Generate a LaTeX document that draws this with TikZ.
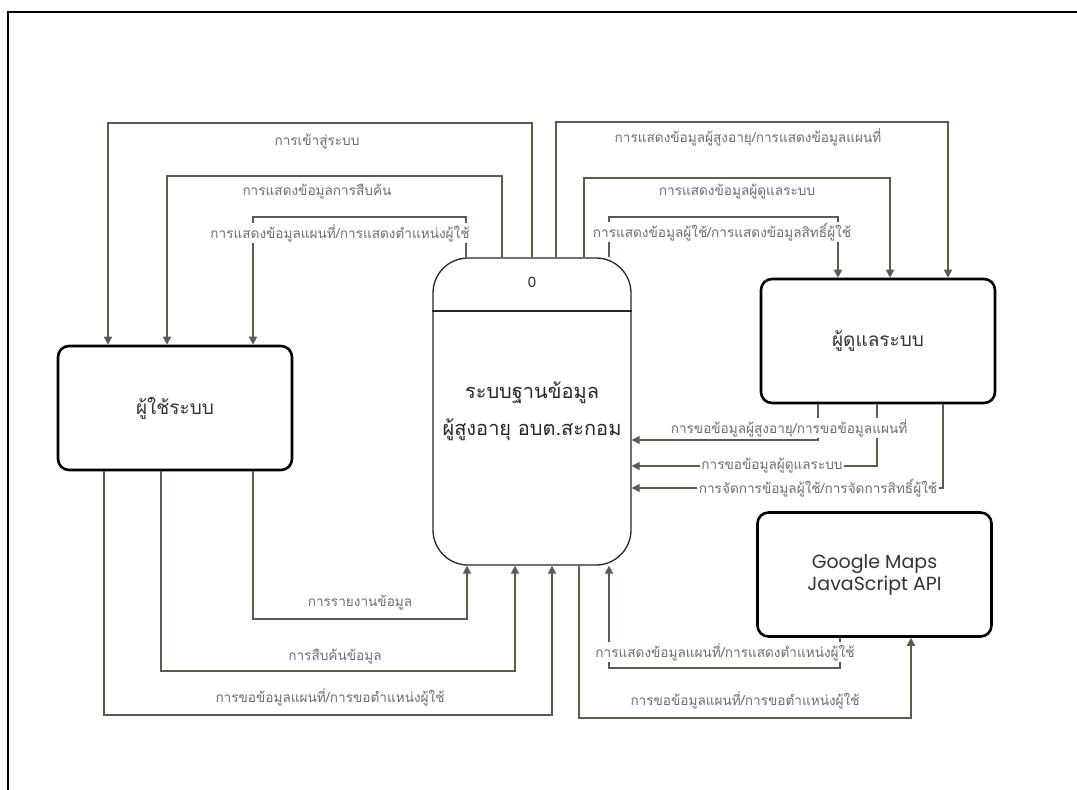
\documentclass[tikz,border=0pt]{standalone}
\usepackage{fontspec}
\usetikzlibrary{arrows.meta}
\newfontfamily\thaifont[Script=Thai]{Loma}
\newfontfamily\latinfont{Poppins}
\definecolor{flowgray}{RGB}{92,92,78}
\definecolor{labelgray}{RGB}{110,110,110}

\begin{document}
\begin{tikzpicture}[x=1pt,y=-1pt,
    entity/.style={draw=black, line width=2.6pt, rounded corners=11pt,
      minimum width=234pt, minimum height=124pt, text=black!80},
    process/.style={draw=black!85, line width=1.3pt, rounded corners=35pt,
      minimum width=198pt, minimum height=307pt, align=center, text=black!85},
    flow/.style={draw=flowgray, line width=1.6pt, -{Triangle[length=8pt,width=8pt]}},
    lbl/.style={fill=white, inner sep=1.5pt, text=labelgray,
      font=\thaifont\fontsize{13.6}{15}\selectfont}]

            \useasboundingbox (0,0) rectangle (1077,790);
            \draw [line width=2pt] (8,790) -- (8,12) -- (1077,12);

            % entities and process
            \node (user) [entity, font=\thaifont\fontsize{19}{22}\selectfont] at (175,408) {ผู้ใช้ระบบ};
            \node (admin) [entity, font=\thaifont\fontsize{19}{22}\selectfont] at (878,341) {ผู้ดูแลระบบ};
            \node (gmap) [entity, align=center, font=\latinfont\fontsize{19}{22}\selectfont] at (874.5,574.5) {Google Maps\\JavaScript API};
            \node (sys) [process, font=\thaifont\fontsize{20}{37}\selectfont] at (532,411.5) {ระบบฐานข้อมูล\\ผู้สูงอายุ อบต.สะกอม};
            \node (num) [font=\latinfont\fontsize{14}{16}\selectfont, text=black!85] at (532,282) {0};
            \coordinate (sep) at (532,311);
            \draw [draw=black!85, line width=1.1pt] (sep -| sys.west) -- (sep -| sys.east);

            % user side, top
            \coordinate (a1) at (532,123);
            \coordinate (a2) at (108,123);
            \coordinate (b1) at (502,176);
            \coordinate (b2) at (167,176);
            \coordinate (c1) at (466,217);
            \coordinate (c2) at (253,217);
            \draw [flow] (a1 |- sys.north) -- (a1) -- (a2) -- (a2 |- user.north);
            \draw [flow] (b1 |- sys.north) -- (b1) -- (b2) -- (b2 |- user.north);
            \draw [flow] (c1 |- sys.north) -- (c1) -- (c2) -- (c2 |- user.north);

            % admin side, top
            \coordinate (d1) at (556,122);
            \coordinate (d2) at (948,122);
            \coordinate (e1) at (584,178);
            \coordinate (e2) at (890,178);
            \coordinate (f1) at (609,217);
            \coordinate (f2) at (838,217);
            \draw [flow] (d1 |- sys.north) -- (d1) -- (d2) -- (d2 |- admin.north);
            \draw [flow] (e1 |- sys.north) -- (e1) -- (e2) -- (e2 |- admin.north);
            \draw [flow] (f1 |- sys.north) -- (f1) -- (f2) -- (f2 |- admin.north);

            % admin side, requests
            \coordinate (g1) at (818,440);
            \coordinate (h1) at (877,466);
            \coordinate (i1) at (943,488);
            \draw [flow] (g1 |- admin.south) -- (g1) -- (g1 -| sys.east);
            \draw [flow] (h1 |- admin.south) -- (h1) -- (h1 -| sys.east);
            \draw [flow] (i1 |- admin.south) -- (i1) -- (i1 -| sys.east);

            % user side, bottom
            \coordinate (j1) at (253,619);
            \coordinate (j2) at (467,619);
            \coordinate (k1) at (161,671);
            \coordinate (k2) at (515,671);
            \coordinate (m1) at (104,715);
            \coordinate (m2) at (552,715);
            \draw [flow] (j1 |- user.south) -- (j1) -- (j2) -- (j2 |- sys.south);
            \draw [flow] (k1 |- user.south) -- (k1) -- (k2) -- (k2 |- sys.south);
            \draw [flow] (m1 |- user.south) -- (m1) -- (m2) -- (m2 |- sys.south);

            % google maps
            \coordinate (n1) at (579,718);
            \coordinate (n2) at (911,718);
            \coordinate (o1) at (840,668);
            \coordinate (o2) at (609,668);
            \draw [flow] (n1 |- sys.south) -- (n1) -- (n2) -- (n2 |- gmap.south);
            \draw [flow] (o1 |- gmap.south) -- (o1) -- (o2) -- (o2 |- sys.south);

            % labels
            \node (la) [lbl] at (317,142) {การเข้าสู่ระบบ};
            \node (lb) [lbl] at (317,192) {การแสดงข้อมูลการสืบค้น};
            \node (lc) [lbl] at (340,233) {การแสดงข้อมูลแผนที่/การแสดงตำแหน่งผู้ใช้};
            \node (ld) [lbl] at (748,137) {การแสดงข้อมูลผู้สูงอายุ/การแสดงข้อมูลแผนที่};
            \node (le) [lbl] at (737,192) {การแสดงข้อมูลผู้ดูแลระบบ};
            \node (lf) [lbl] at (722,232) {การแสดงข้อมูลผู้ใช้/การแสดงข้อมูลสิทธิ์ผู้ใช้};
            \node (lg) [lbl] at (789,428) {การขอข้อมูลผู้สูงอายุ/การขอข้อมูลแผนที่};
            \node (lh) [lbl] at (772,466) {การขอข้อมูลผู้ดูแลระบบ};
            \node (li) [lbl] at (818,488) {การจัดการข้อมูลผู้ใช้/การจัดการสิทธิ์ผู้ใช้};
            \node (lj) [lbl] at (360,603) {การรายงานข้อมูล};
            \node (lk) [lbl] at (335,657) {การสืบค้นข้อมูล};
            \node (lm) [lbl] at (330,697) {การขอข้อมูลแผนที่/การขอตำแหน่งผู้ใช้};
            \node (lo) [lbl] at (725,652) {การแสดงข้อมูลแผนที่/การแสดงตำแหน่งผู้ใช้};
            \node (ln) [lbl] at (745,700) {การขอข้อมูลแผนที่/การขอตำแหน่งผู้ใช้};

\end{tikzpicture}
\end{document}
